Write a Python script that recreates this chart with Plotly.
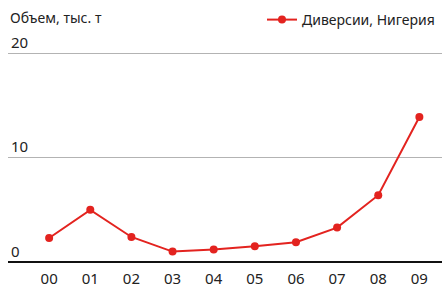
import plotly.graph_objects as go

years = ["00", "01", "02", "03", "04", "05", "06", "07", "08", "09"]
values = [2.3, 5.0, 2.4, 1.0, 1.2, 1.5, 1.9, 3.3, 6.4, 13.9]
series_name = "Диверсии, Нигерия"
y_title = "Объем, тыс. т"
y_ticks = [0, 10, 20]

red = "#e3231f"
font = "Noto Sans"

W, H = 442, 284
mt, mb = 22, 22
plot_h = H - mt - mb

fig = go.Figure()
fig.add_trace(go.Scatter(
    x=years, y=values, mode="lines+markers", name=series_name,
    line=dict(color=red, width=2),
    marker=dict(color=red, size=8),
))

fig.update_layout(
    width=W, height=H,
    margin=dict(l=8, r=0, t=mt, b=mb, autoexpand=False),
    paper_bgcolor="white", plot_bgcolor="white",
    font=dict(family=font, size=15, color="#222222"),
    showlegend=True,
    legend=dict(x=1 - 2 / W, xref="container", xanchor="right",
                y=1 - 4 / H, yref="container", yanchor="top",
                orientation="h", font=dict(size=14, color="#222222"),
                bgcolor="rgba(0,0,0,0)", itemwidth=30),
    xaxis=dict(type="category", range=[-1.0, 9.55], showgrid=False, zeroline=False,
               showline=False, ticks="", automargin=False, ticklabelstandoff=6,
               tickfont=dict(size=15, color="#222222")),
    yaxis=dict(range=[0, 23], tickvals=y_ticks, showgrid=True, gridcolor="#b3b3b3",
               gridwidth=1, zeroline=True, zerolinecolor="#111111", zerolinewidth=1.5,
               showline=False, ticks="", ticklabelposition="inside top", automargin=False,
               tickfont=dict(size=15, color="#222222")),
    annotations=[dict(text=y_title, x=0, xref="paper", xanchor="left",
                      y=(H - mb - 17) / plot_h, yref="paper", yanchor="middle",
                      showarrow=False, font=dict(size=14, color="#222222"))],
)
fig.write_html(
    "out.html",
    config={"displayModeBar": False},
    post_script="document.body.style.margin='0px';document.body.style.overflow='hidden';",
)
